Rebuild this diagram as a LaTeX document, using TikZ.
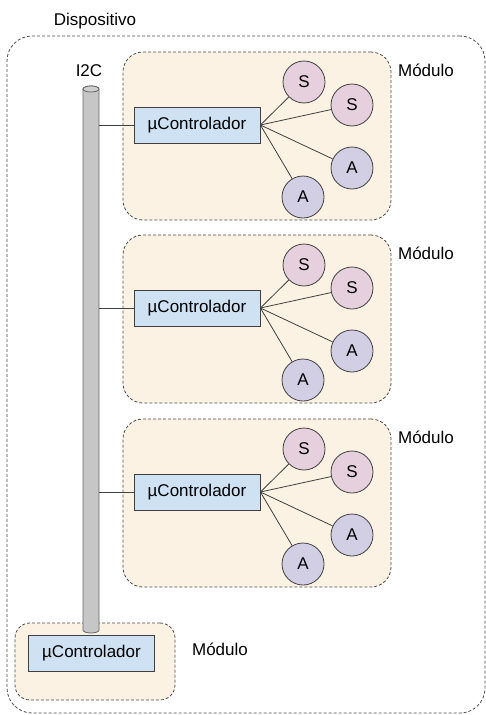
\documentclass[tikz,border=0pt]{standalone}
\usepackage{fontspec}
\setmainfont{Liberation Sans}
\definecolor{fondomod}{RGB}{252,242,228}
\definecolor{fondouc}{RGB}{207,226,243}
\definecolor{fondos}{RGB}{230,208,222}
\definecolor{fondoa}{RGB}{210,207,228}
\definecolor{gris}{RGB}{198,198,198}
\begin{document}
\begin{tikzpicture} [x=1pt,y=-1pt,font=\fontsize{17}{20}\selectfont,line width=0.8pt,
    caja/.style={draw=black!70,dashed,dash pattern=on 3pt off 2pt,rounded corners=20pt},
    uc/.style={draw=black!75,fill=fondouc,minimum width=126pt,minimum height=36pt,inner sep=0pt},
    sen/.style={circle,draw=black!75,fill=fondos,minimum size=42pt,inner sep=0pt},
    act/.style={circle,draw=black!75,fill=fondoa,minimum size=42pt,inner sep=0pt}]
\useasboundingbox (0,0) rectangle (486,715);
%dispositivo
        \node[caja,minimum width=478pt,minimum height=677pt,rounded corners=25pt] (disp) at (246,374.5) {};
        \node (tdisp) at (95,21) {Dispositivo};
%modulos
\foreach \i/\y in {1/125,2/308,3/492}{
        \node[caja,fill=fondomod,minimum width=268pt,minimum height=168pt] (m\i) at (257,\y+11) {};
        \node (tm\i) at (426,\y-55) {Módulo};
}
        \node[caja,fill=fondomod,minimum width=160pt,minimum height=77pt,rounded corners=15pt] (m4) at (95,661.5) {};
        \node (tm4) at (220,649) {Módulo};
%bus
        \draw [black!60,fill=gris] (83,89) -- (83,630) arc[start angle=180,end angle=0,x radius=8,y radius=3]
            -- (99,89) arc[start angle=0,end angle=-180,x radius=8,y radius=3] -- cycle;
        \draw [black!60,fill=gris!85] (91,89) ellipse[x radius=8,y radius=3];
        \coordinate (bus) at (99,89);
        \node (tbus) at (89,71) {I2C};
        \node[uc] (c4) at (91.5,653) {µControlador};
%controladores
\foreach \i/\y in {1/125,2/308,3/492}{
        \node[uc] (c\i) at (197,\y) {µControlador};
        \node[sen] (sa\i) at (304,\y-43) {S};
        \node[sen] (sb\i) at (352,\y-20) {S};
        \node[act] (aa\i) at (352,\y+43) {A};
        \node[act] (ab\i) at (303,\y+72) {A};
        \draw [black!75] (c\i.west -| bus) -- (c\i.west);
        \foreach \n in {sa,sb,aa,ab}
            \draw [black!75] (c\i.east) -- (\n\i);
}
\end{tikzpicture}
\end{document}
